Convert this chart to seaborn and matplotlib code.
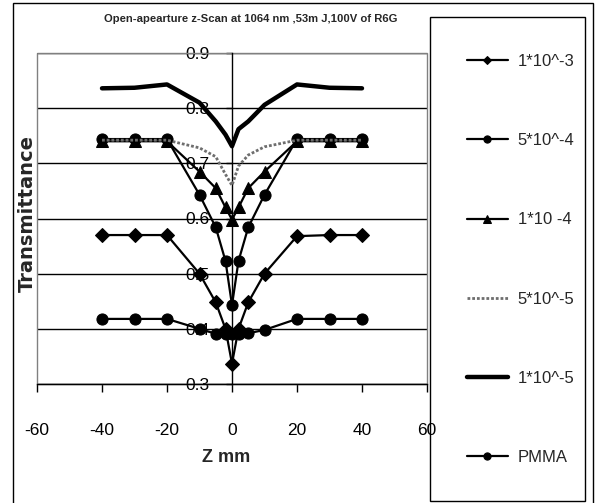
import matplotlib
matplotlib.use('Agg')
import matplotlib.pyplot as plt
import seaborn as sns
from matplotlib.patches import Rectangle

# ---- data ----
z_mm = [-40, -30, -20, -10, -5, -2, 0, 2, 5, 10, 20, 30, 40]
t_1e3 = [0.570, 0.570, 0.570, 0.500, 0.448, 0.400, 0.337, 0.400, 0.448, 0.500, 0.568, 0.570, 0.570]
t_5e4 = [0.744, 0.744, 0.744, 0.643, 0.584, 0.523, 0.443, 0.523, 0.584, 0.643, 0.744, 0.744, 0.744]
t_1e4 = [0.740, 0.740, 0.740, 0.685, 0.655, 0.620, 0.598, 0.620, 0.655, 0.685, 0.740, 0.740, 0.740]
t_5e5 = [0.742, 0.742, 0.742, 0.728, 0.712, 0.680, 0.660, 0.695, 0.715, 0.730, 0.742, 0.742, 0.742]
t_1e5 = [0.836, 0.837, 0.843, 0.810, 0.776, 0.752, 0.731, 0.762, 0.776, 0.806, 0.843, 0.837, 0.836]
t_pmma = [0.418, 0.418, 0.418, 0.400, 0.391, 0.390, 0.390, 0.390, 0.392, 0.398, 0.418, 0.418, 0.418]
labels = ["1*10^-3", "5*10^-4", "1*10 -4", "5*10^-5", "1*10^-5", "PMMA"]
x_ticks = [-60, -40, -20, 0, 20, 40, 60]
y_ticks = [0.3, 0.4, 0.5, 0.6, 0.7, 0.8, 0.9]

sns.set_theme(style='white')
plt.rcParams['font.family'] = ['Liberation Sans Narrow', 'Liberation Sans', 'DejaVu Sans']

W, H = 595, 503
fig = plt.figure(figsize=(W / 100, H / 100), dpi=100)
ax = fig.add_axes([37 / W, (H - 384) / H, 390 / W, 331 / H])

styles = [
    (t_1e3, dict(marker='D', markersize=7, linewidth=1.6, color='black', linestyle='-')),
    (t_5e4, dict(marker='o', markersize=8, linewidth=1.6, color='black', linestyle='-')),
    (t_1e4, dict(marker='^', markersize=8.5, linewidth=1.6, color='black', linestyle='-')),
    (t_5e5, dict(marker='', linewidth=2.0, color='#6e6e6e', linestyle=(0, (1, 0.7)))),
    (t_1e5, dict(marker='', linewidth=3.2, color='black', linestyle='-')),
    (t_pmma, dict(marker='o', markersize=8, linewidth=1.6, color='black', linestyle='-')),
]
handles = []
for (vals, kw), lab in zip(styles, labels):
    n_before = len(ax.lines)
    sns.lineplot(x=z_mm, y=vals, ax=ax, estimator=None, sort=False, legend=False,
                 markeredgecolor='black', zorder=3, **kw)
    ln = ax.lines[n_before]
    ln.set_linestyle(kw['linestyle'])
    ln.set_label(lab)
    handles.append(ln)

ax.set_xlim(-60, 60)
ax.set_ylim(0.3, 0.9)
ax.set_xticks(x_ticks)
ax.set_xticklabels([str(v) for v in x_ticks])
ax.set_yticks(y_ticks)
ax.set_yticklabels([f"{v:.1f}" for v in y_ticks])
ax.yaxis.grid(True, color='black', linewidth=1)
ax.xaxis.grid(False)
ax.set_xlabel('')
ax.set_ylabel('')

for s in ['top', 'right']:
    ax.spines[s].set_visible(False)
ax.spines['left'].set_position(('data', 0))
ax.spines['left'].set_color('black')
ax.spines['left'].set_linewidth(1)
ax.spines['bottom'].set_color('black')
ax.spines['bottom'].set_linewidth(1)
ax.add_patch(Rectangle((0, 0), 1, 1, transform=ax.transAxes, fill=False,
                       edgecolor='#808080', linewidth=1, clip_on=False, zorder=1))

ax.tick_params(axis='y', direction='out', length=4, width=1, pad=12, labelsize=12.5,
               left=True, colors='black')
ax.tick_params(axis='x', direction='out', length=6, width=1, pad=22, labelsize=12.5,
               bottom=True, colors='black')

# titles / labels
fig.text(251 / W, 1 - 19 / H, 'Open-apearture z-Scan at 1064 nm ,53m J,100V of R6G',
         ha='center', va='center', fontsize=8.1, fontweight='bold')
fig.text(27 / W, 1 - 214 / H, 'Transmittance', rotation=90, ha='center', va='center',
         fontsize=14, fontweight='bold', family=['DejaVu Sans'])
fig.text(226 / W, 1 - 458 / H, 'Z mm', ha='center', va='center', fontsize=13,
         fontweight='bold', family=['Liberation Sans', 'DejaVu Sans'])

# legend box
fig.patches.append(Rectangle((430 / W, 1 - 501 / H), 155 / W, 484 / H, transform=fig.transFigure,
                             fill=False, edgecolor='black', linewidth=1))
# outer chart border
fig.patches.append(Rectangle((13 / W, -0.01), 580 / W, 1 - 3 / H + 0.01, transform=fig.transFigure,
                             fill=False, edgecolor='black', linewidth=1))

leg = fig.legend(handles=handles, labels=labels, loc='center left',
                 bbox_to_anchor=(467 / W, 1 - 259.5 / H), frameon=False, fontsize=12,
                 borderaxespad=0, borderpad=0, labelspacing=3.85, handlelength=2.45,
                 handletextpad=0.6, markerscale=0.65)

fig.savefig('out.png', dpi=100)
